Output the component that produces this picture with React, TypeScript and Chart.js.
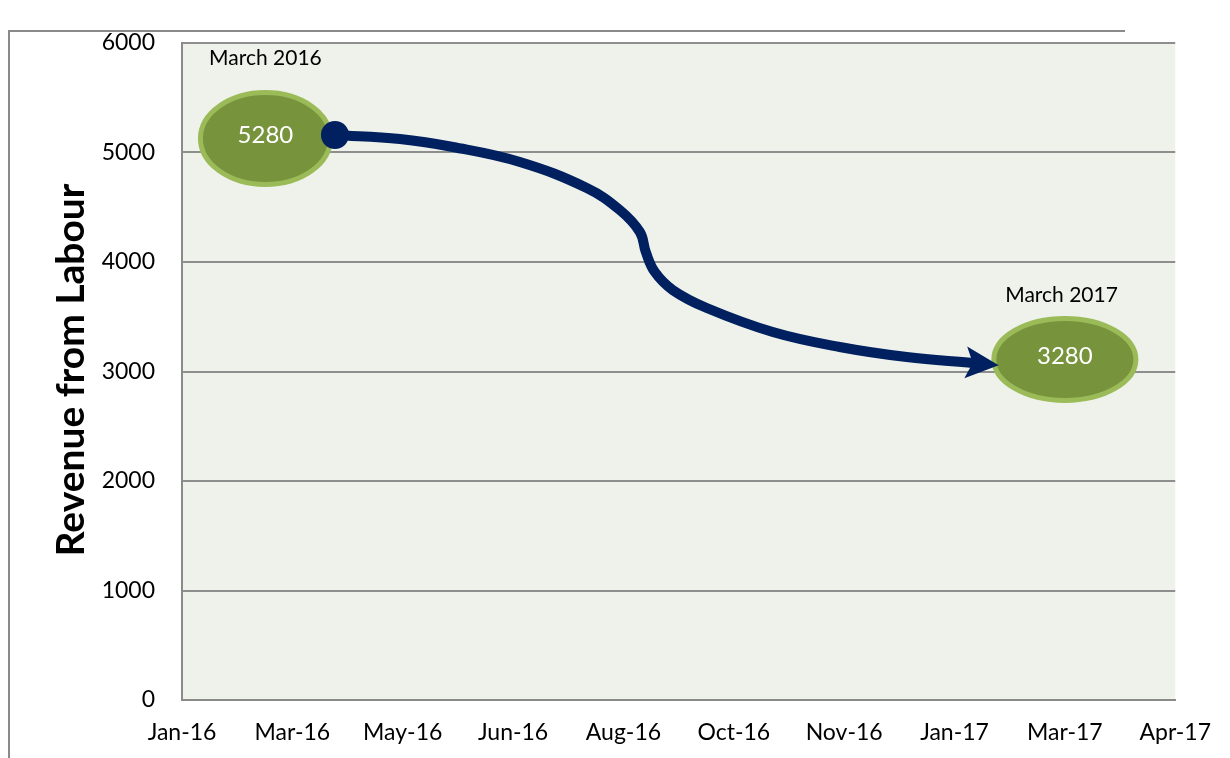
import React, { useEffect, useRef } from "react";
import { Chart, registerables } from "chart.js";

Chart.register(...registerables);

// ---- data ----
const xTickLabels = ["Jan-16", "Mar-16", "May-16", "Jun-16", "Aug-16", "Oct-16", "Nov-16", "Jan-17", "Mar-17", "Apr-17"];
const yMin = 0;
const yMax = 6000;
const yStep = 1000;
const yTitle = "Revenue from Labour";

// trend curve (x = position on the date axis, y = revenue)
const curveX = [1.386, 1.975, 2.455, 3.062, 3.668, 3.967, 4.149, 4.203, 4.284, 4.447, 4.755, 5.353, 5.96, 6.567, 7.165];
const curveY = [5160, 5123, 5050, 4913, 4676, 4475, 4274, 4091, 3909, 3744, 3580, 3361, 3224, 3132, 3078];

// value bubbles
const bubbleX = [0.756, 8.0];
const bubbleY = [5128, 3110];
const bubbleValues = [5280, 3280];

// captions above bubbles
const captionText = ["March 2016", "March 2017"];
const captionX = [0.756, 7.97];
const captionY = [5795, 3635];

const FONT = "Lato, 'Noto Sans', sans-serif";
const NAVY = "#002060";

const decorPlugin = {
  id: "decor",
  beforeDraw(chart: any) {
    const { ctx, chartArea } = chart;
    ctx.save();
    ctx.fillStyle = "#ffffff";
    ctx.fillRect(0, 0, chart.width, chart.height);
    // outer frame
    ctx.strokeStyle = "#8a8a8a";
    ctx.lineWidth = 2;
    ctx.beginPath();
    ctx.moveTo(9, chart.height);
    ctx.lineTo(9, 31);
    ctx.lineTo(1125, 31);
    ctx.stroke();
    // plot area background
    ctx.fillStyle = "#EFF2EA";
    ctx.fillRect(chartArea.left, chartArea.top, chartArea.right - chartArea.left, chartArea.bottom - chartArea.top);
    // y axis title
    ctx.fillStyle = "#000000";
    ctx.font = `bold 39px ${FONT}`;
    ctx.textAlign = "center";
    ctx.textBaseline = "alphabetic";
    ctx.translate(84, 370);
    ctx.rotate(-Math.PI / 2);
    ctx.fillText(yTitle, 0, 0);
    ctx.restore();
  },
  beforeDatasetsDraw(chart: any) {
    const { ctx } = chart;
    const xs = chart.scales.x;
    const ys = chart.scales.y;
    const radii = [
      [65, 46],
      [71, 41],
    ];
    ctx.save();
    for (let i = 0; i < bubbleX.length; i++) {
      const cx = xs.getPixelForValue(bubbleX[i]);
      const cy = ys.getPixelForValue(bubbleY[i]);
      ctx.beginPath();
      ctx.ellipse(cx, cy, radii[i][0], radii[i][1], 0, 0, Math.PI * 2);
      ctx.fillStyle = "#77933C";
      ctx.fill();
      ctx.lineWidth = 5;
      ctx.strokeStyle = "#9BBB59";
      ctx.stroke();
      ctx.fillStyle = "#ffffff";
      ctx.font = `24px ${FONT}`;
      ctx.textAlign = "center";
      ctx.textBaseline = "alphabetic";
      ctx.fillText(String(bubbleValues[i]), cx, cy + 4.5);
    }
    for (let i = 0; i < captionText.length; i++) {
      ctx.fillStyle = "#000000";
      ctx.font = `21px ${FONT}`;
      ctx.textAlign = "center";
      ctx.textBaseline = "alphabetic";
      ctx.fillText(captionText[i], xs.getPixelForValue(captionX[i]), ys.getPixelForValue(captionY[i]));
    }
    ctx.restore();
  },
  afterDatasetsDraw(chart: any) {
    const { ctx } = chart;
    const xs = chart.scales.x;
    const ys = chart.scales.y;
    const n = curveX.length;
    const px = xs.getPixelForValue(curveX[n - 1]);
    const py = ys.getPixelForValue(curveY[n - 1]);
    const qx = xs.getPixelForValue(curveX[n - 2]);
    const qy = ys.getPixelForValue(curveY[n - 2]);
    const ang = Math.atan2(py - qy, px - qx);
    ctx.save();
    ctx.translate(px, py);
    ctx.rotate(ang);
    ctx.beginPath();
    ctx.moveTo(26, 0);
    ctx.lineTo(-7, -16);
    ctx.lineTo(0, 0);
    ctx.lineTo(-7, 16);
    ctx.closePath();
    ctx.fillStyle = NAVY;
    ctx.fill();
    ctx.restore();
  },
};

export default function App() {
  const ref = useRef<HTMLCanvasElement | null>(null);
  useEffect(() => {
    document.body.style.margin = "0";
    const canvas = ref.current;
    if (!canvas) return;
    const points = curveX.map((x, i) => ({ x, y: curveY[i] }));
    const chart = new Chart(canvas, {
      type: "line",
      data: {
        datasets: [
          {
            data: points,
            borderColor: NAVY,
            borderWidth: 10,
            borderCapStyle: "round",
            borderJoinStyle: "round",
            tension: 0.4,
            pointRadius: points.map((_, i) => (i === 0 ? 14 : 0)),
            pointBackgroundColor: NAVY,
            pointBorderWidth: 0,
            pointHoverRadius: 0,
            fill: false,
            clip: false as any,
          },
        ],
      },
      options: {
        responsive: false,
        animation: false,
        events: [],
        layout: { padding: { top: 43, right: 54, left: 0, bottom: 0 } },
        plugins: { legend: { display: false }, tooltip: { enabled: false }, title: { display: false } },
        scales: {
          x: {
            type: "linear",
            min: 0,
            max: xTickLabels.length - 1,
            afterFit(scale: any) {
              scale.height = 58;
            },
            afterBuildTicks(scale: any) {
              scale.ticks = xTickLabels.map((_, i) => ({ value: i }));
            },
            ticks: {
              autoSkip: false,
              maxRotation: 0,
              padding: 19,
              color: "#000000",
              font: { family: FONT, size: 23 },
              callback: (v: any) => xTickLabels[Math.round(Number(v))] ?? "",
            },
            grid: { display: false, drawTicks: false },
            border: { display: true, color: "#8a8a8a", width: 2 },
          },
          y: {
            min: yMin,
            max: yMax,
            afterFit(scale: any) {
              scale.width = 182;
            },
            ticks: {
              stepSize: yStep,
              padding: 27,
              color: "#000000",
              font: { family: FONT, size: 23 },
              callback: (v: any) => String(v),
            },
            grid: { color: "#8e8e8e", lineWidth: 2, drawTicks: false },
            border: { display: true, color: "#8a8a8a", width: 2 },
          },
        },
      },
      plugins: [decorPlugin],
    });
    return () => chart.destroy();
  }, []);
  return (
    <div style={{ width: 1230, height: 758 }}>
      <canvas ref={ref} width={1230} height={758} style={{ display: "block" }} />
    </div>
  );
}
